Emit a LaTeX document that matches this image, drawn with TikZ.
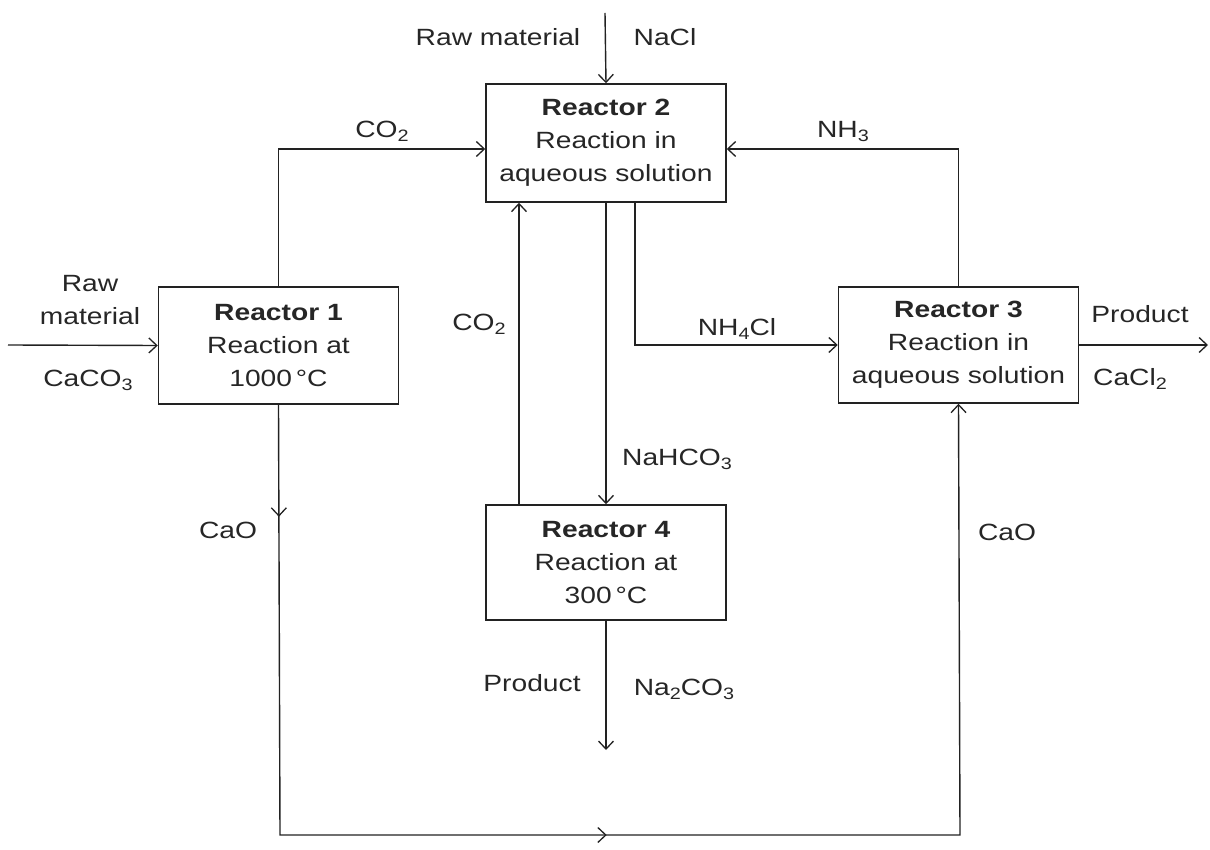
\documentclass[tikz,border=0pt]{standalone}
\usepackage{fontspec}
\setmainfont{Liberation Sans}[FakeStretch=1.2]
\usetikzlibrary{arrows.meta,decorations.markings}
\definecolor{ink}{HTML}{222222}
\definecolor{txt}{HTML}{262626}
\newcommand\chsub[1]{\raisebox{-4pt}{\fontsize{16.5}{16.5}\selectfont #1}}
\begin{document}
\begin{tikzpicture}[x=1pt,y=-1pt,
  every node/.style={font=\fontsize{23.5}{33}\selectfont, text=txt},
  reactor/.style={draw=ink, line width=1.5pt, minimum width=240pt, align=center, inner sep=0pt},
  lbl/.style={align=center, inner sep=0pt},
  flow/.style={draw=ink, line width=1.4pt, -{Straight Barb[length=8pt,width=15pt,line width=1.3pt]}},
  plain/.style={draw=ink, line width=1.4pt}
]
\useasboundingbox (0,0) rectangle (1210,850);

% reactors
\node[reactor, minimum height=117pt] (r1) at (278.5,345.5) {\textbf{Reactor 1}\\Reaction at\\1000\,°C};
\node[reactor, minimum height=118pt] (r2) at (606,143) {\textbf{Reactor 2}\\Reaction in\\aqueous solution};
\node[reactor, minimum height=116pt] (r3) at (958.5,345) {\textbf{Reactor 3}\\Reaction in\\aqueous solution};
\node[reactor, minimum height=115pt] (r4) at (606,562.5) {\textbf{Reactor 4}\\Reaction at\\300\,°C};

% free ends
\coordinate (in1) at (8,345);
\coordinate (in2) at (605,13);
\coordinate (out3) at (1208,345);
\coordinate (out4) at (606,750);
\coordinate (bl) at (280,835);
\coordinate (br) at (960,835);

% connectors
\draw[flow] (in2) -- (r2.north);
\draw[flow] (in1) -- (r1.west);
\draw[flow] (r3.east) -- (out3);
\draw[flow] (r1.north) |- ([yshift=-6pt]r2.west);
\draw[flow] (r3.north) |- ([yshift=-6pt]r2.east);
\draw[flow] ([xshift=29pt]r2.south) |- (r3.west);
\draw[flow] ([xshift=-87pt]r4.north) -- ([xshift=-87pt]r2.south);
\draw[flow] (r2.south) -- (r4.north);
\draw[flow] (r4.south) -- (out4);
\draw[flow, postaction={decorate}, decoration={markings,
    mark=at position 112pt with {\arrow{Straight Barb[length=8pt,width=15pt,line width=1.3pt]}},
    mark=at position 757pt with {\arrow{Straight Barb[length=8pt,width=15pt,line width=1.3pt]}}}]
  (r1.south) -- (bl) -- (br) -- (r3.south);

% labels
\node[lbl] (tRaw2) at (498,37) {Raw material};
\node[lbl] (tNaCl) at (665,37) {NaCl};
\node[lbl] (tCO2a) at (382,131) {CO\chsub{2}};
\node[lbl] (tNH3) at (843,131) {NH\chsub{3}};
\node[lbl] (tRaw1) at (90,300) {Raw\\material};
\node[lbl] (tCaCO3) at (88,380) {CaCO\chsub{3}};
\node[lbl] (tProd3) at (1140,314) {Product};
\node[lbl] (tCaCl2) at (1130,379) {CaCl\chsub{2}};
\node[lbl] (tNH4Cl) at (737,329) {NH\chsub{4}Cl};
\node[lbl] (tCO2b) at (479,324) {CO\chsub{2}};
\node[lbl] (tNaHCO3) at (677,459) {NaHCO\chsub{3}};
\node[lbl] (tCaO1) at (228,530) {CaO};
\node[lbl] (tCaO2) at (1007,532) {CaO};
\node[lbl] (tProd4) at (532,683) {Product};
\node[lbl] (tNa2CO3) at (684,689) {Na\chsub{2}CO\chsub{3}};
\end{tikzpicture}
\end{document}
